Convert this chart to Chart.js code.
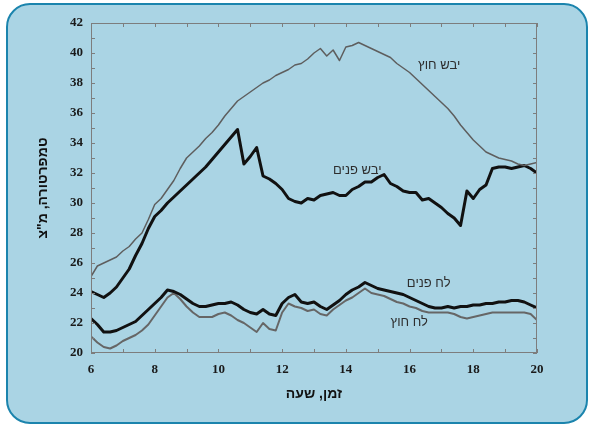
<!DOCTYPE html>
<html>
<head>
<meta charset="utf-8">
<script src="https://cdn.jsdelivr.net/npm/chart.js@4/dist/chart.umd.min.js"></script>
<style>
  html, body { margin: 0; padding: 0; background: #fff; }
  #frame {
    position: absolute; left: 6px; top: 3px; width: 578px; height: 417px;
    border: 2px solid #1b84ad; border-radius: 24px; background: #aad4e4;
  }
  #chart { position: absolute; left: 0; top: 0; }
</style>
</head>
<body>
<div id="frame"></div>
<canvas id="chart" width="589" height="426"></canvas>
<script>
// time of day, hours
const hours = [
  6.0, 6.2, 6.4, 6.6, 6.8, 7.0, 7.2, 7.4, 7.6, 7.8,
  8.0, 8.2, 8.4, 8.6, 8.8, 9.0, 9.2, 9.4, 9.6, 9.8,
  10.0, 10.2, 10.4, 10.6, 10.8, 11.0, 11.2, 11.4, 11.6, 11.8,
  12.0, 12.2, 12.4, 12.6, 12.8, 13.0, 13.2, 13.4, 13.6, 13.8,
  14.0, 14.2, 14.4, 14.6, 14.8, 15.0, 15.2, 15.4, 15.6, 15.8,
  16.0, 16.2, 16.4, 16.6, 16.8, 17.0, 17.2, 17.4, 17.6, 17.8,
  18.0, 18.2, 18.4, 18.6, 18.8, 19.0, 19.2, 19.4, 19.6, 19.8, 20.0
]

// יבש חוץ
const dryOut = [
  25.1, 25.8, 26.0, 26.2, 26.4, 26.8, 27.1, 27.6, 28.0, 28.9,
  29.9, 30.3, 30.9, 31.5, 32.3, 33.0, 33.4, 33.8, 34.3, 34.7,
  35.2, 35.8, 36.3, 36.8, 37.1, 37.4, 37.7, 38.0, 38.2, 38.5,
  38.7, 38.9, 39.2, 39.3, 39.6, 40.0, 40.3, 39.8, 40.2, 39.5,
  40.4, 40.5, 40.7, 40.5, 40.3, 40.1, 39.9, 39.7, 39.3, 39.0,
  38.7, 38.3, 37.9, 37.5, 37.1, 36.7, 36.3, 35.8, 35.2, 34.7,
  34.2, 33.8, 33.4, 33.2, 33.0, 32.9, 32.8, 32.6, 32.5, 32.6, 32.7
]

// יבש פנים
const dryIn = [
  24.1, 23.9, 23.7, 24.0, 24.4, 25.0, 25.6, 26.5, 27.3, 28.3,
  29.1, 29.5, 30.0, 30.4, 30.8, 31.2, 31.6, 32.0, 32.4, 32.9,
  33.4, 33.9, 34.4, 34.9, 32.6, 33.1, 33.7, 31.8, 31.6, 31.3,
  30.9, 30.3, 30.1, 30.0, 30.3, 30.2, 30.5, 30.6, 30.7, 30.5,
  30.5, 30.9, 31.1, 31.4, 31.4, 31.7, 31.9, 31.3, 31.1, 30.8,
  30.7, 30.7, 30.2, 30.3, 30.0, 29.7, 29.3, 29.0, 28.5, 30.8,
  30.3, 30.9, 31.2, 32.3, 32.4, 32.4, 32.3, 32.4, 32.5, 32.3, 32.0
]

// לח פנים
const wetIn = [
  22.3, 21.9, 21.4, 21.4, 21.5, 21.7, 21.9, 22.1, 22.5, 22.9,
  23.3, 23.7, 24.2, 24.1, 23.9, 23.6, 23.3, 23.1, 23.1, 23.2,
  23.3, 23.3, 23.4, 23.2, 22.9, 22.7, 22.6, 22.9, 22.6, 22.5,
  23.3, 23.7, 23.9, 23.4, 23.3, 23.4, 23.1, 22.9, 23.2, 23.5,
  23.9, 24.2, 24.4, 24.7, 24.5, 24.3, 24.2, 24.1, 24.0, 23.9,
  23.7, 23.5, 23.3, 23.1, 23.0, 23.0, 23.1, 23.0, 23.1, 23.1,
  23.2, 23.2, 23.3, 23.3, 23.4, 23.4, 23.5, 23.5, 23.4, 23.2, 23.0
]

// לח חוץ
const wetOut = [
  21.1, 20.7, 20.4, 20.3, 20.5, 20.8, 21.0, 21.2, 21.5, 21.9,
  22.5, 23.1, 23.7, 24.0, 23.6, 23.1, 22.7, 22.4, 22.4, 22.4,
  22.6, 22.7, 22.5, 22.2, 22.0, 21.7, 21.4, 22.0, 21.6, 21.5,
  22.7, 23.3, 23.1, 23.0, 22.8, 22.9, 22.6, 22.5, 22.9, 23.2,
  23.5, 23.7, 24.0, 24.3, 24.0, 23.9, 23.8, 23.6, 23.4, 23.3,
  23.1, 23.0, 22.8, 22.7, 22.7, 22.7, 22.7, 22.6, 22.4, 22.3,
  22.4, 22.5, 22.6, 22.7, 22.7, 22.7, 22.7, 22.7, 22.7, 22.6, 22.2
]

const seriesNames = ["יבש חוץ", "יבש פנים", "לח פנים", "לח חוץ"]
// label anchors in data units: [hour, temperature]
const labelAt = [[16.93, 39.2], [14.36, 32.2], [16.6, 24.67], [15.99, 22.07]]

const toPoints = vals => vals.map((v, i) => ({ x: hours[i], y: v }))

// frame, inward ticks and the inline series names
const decor = {
  id: "decor",
  afterDraw(chart) {
    const { ctx, chartArea: a, scales: { x, y } } = chart
    ctx.save()
    ctx.strokeStyle = "#7d7d7d"
    ctx.lineWidth = 1
    ctx.strokeRect(a.left + 0.5, a.top + 0.5, a.right - a.left - 1, a.bottom - a.top - 1)
    ctx.beginPath()
    x.ticks.forEach(t => {
      const px = Math.round(x.getPixelForValue(t.value)) + 0.5
      ctx.moveTo(px, a.bottom); ctx.lineTo(px, a.bottom - 4)
      ctx.moveTo(px, a.top); ctx.lineTo(px, a.top + 4)
    })
    y.ticks.forEach(t => {
      const py = Math.round(y.getPixelForValue(t.value)) + 0.5
      ctx.moveTo(a.left, py); ctx.lineTo(a.left + 4, py)
      ctx.moveTo(a.right, py); ctx.lineTo(a.right - 4, py)
    })
    ctx.stroke()

    ctx.fillStyle = "#2e2e2e"
    ctx.font = "13px 'Liberation Sans', sans-serif"
    ctx.textAlign = "center"
    ctx.textBaseline = "middle"
    ctx.direction = "rtl"
    seriesNames.forEach((name, i) => {
      const [h, v] = labelAt[i]
      ctx.fillText(name, x.getPixelForValue(h), y.getPixelForValue(v))
    })
    ctx.restore()
  }
}

new Chart(document.getElementById("chart"), {
  type: "line",
  data: {
    datasets: [
      { label: seriesNames[0], data: toPoints(dryOut), borderColor: "#5e5e5e", borderWidth: 1.5 },
      { label: seriesNames[1], data: toPoints(dryIn), borderColor: "#111111", borderWidth: 3 },
      { label: seriesNames[2], data: toPoints(wetIn), borderColor: "#111111", borderWidth: 3 },
      { label: seriesNames[3], data: toPoints(wetOut), borderColor: "#666666", borderWidth: 2 }
    ]
  },
  options: {
    responsive: false,
    animation: false,
    elements: { point: { radius: 0 }, line: { tension: 0, borderJoinStyle: "round" } },
    layout: { padding: { left: 28, top: 23, right: 52, bottom: 20 } },
    plugins: { legend: { display: false }, tooltip: { enabled: false } },
    scales: {
      x: {
        type: "linear",
        min: 6, max: 20,
        grid: { display: false, drawTicks: false },
        border: { display: false },
        afterFit: s => { s.height = 53 },
        ticks: {
          stepSize: 1, padding: 9, color: "#1a1a1a", maxRotation: 0, autoSkip: false,
          font: { family: "'Liberation Serif', serif", size: 13, weight: "bold" },
          callback: v => (v % 2 === 0 ? v : "")
        },
        title: {
          display: true, text: "זמן, שעה", color: "#111",
          font: { family: "'Liberation Sans', sans-serif", size: 14, weight: "bold" },
          padding: { top: 0, bottom: 3 }
        }
      },
      y: {
        min: 20, max: 42,
        grid: { display: false, drawTicks: false },
        border: { display: false },
        afterFit: s => { s.width = 63 },
        ticks: {
          stepSize: 1, padding: 8, color: "#1a1a1a", autoSkip: false,
          font: { family: "'Liberation Serif', serif", size: 13, weight: "bold" },
          callback: v => (v % 2 === 0 ? v : "")
        },
        title: {
          display: true, text: "טמפרטורה, מ\"צ", color: "#111",
          font: { family: "'Liberation Sans', sans-serif", size: 14, weight: "bold" },
          padding: { top: 7, bottom: 0 }
        }
      }
    }
  },
  plugins: [decor]
})
</script>
</body>
</html>
